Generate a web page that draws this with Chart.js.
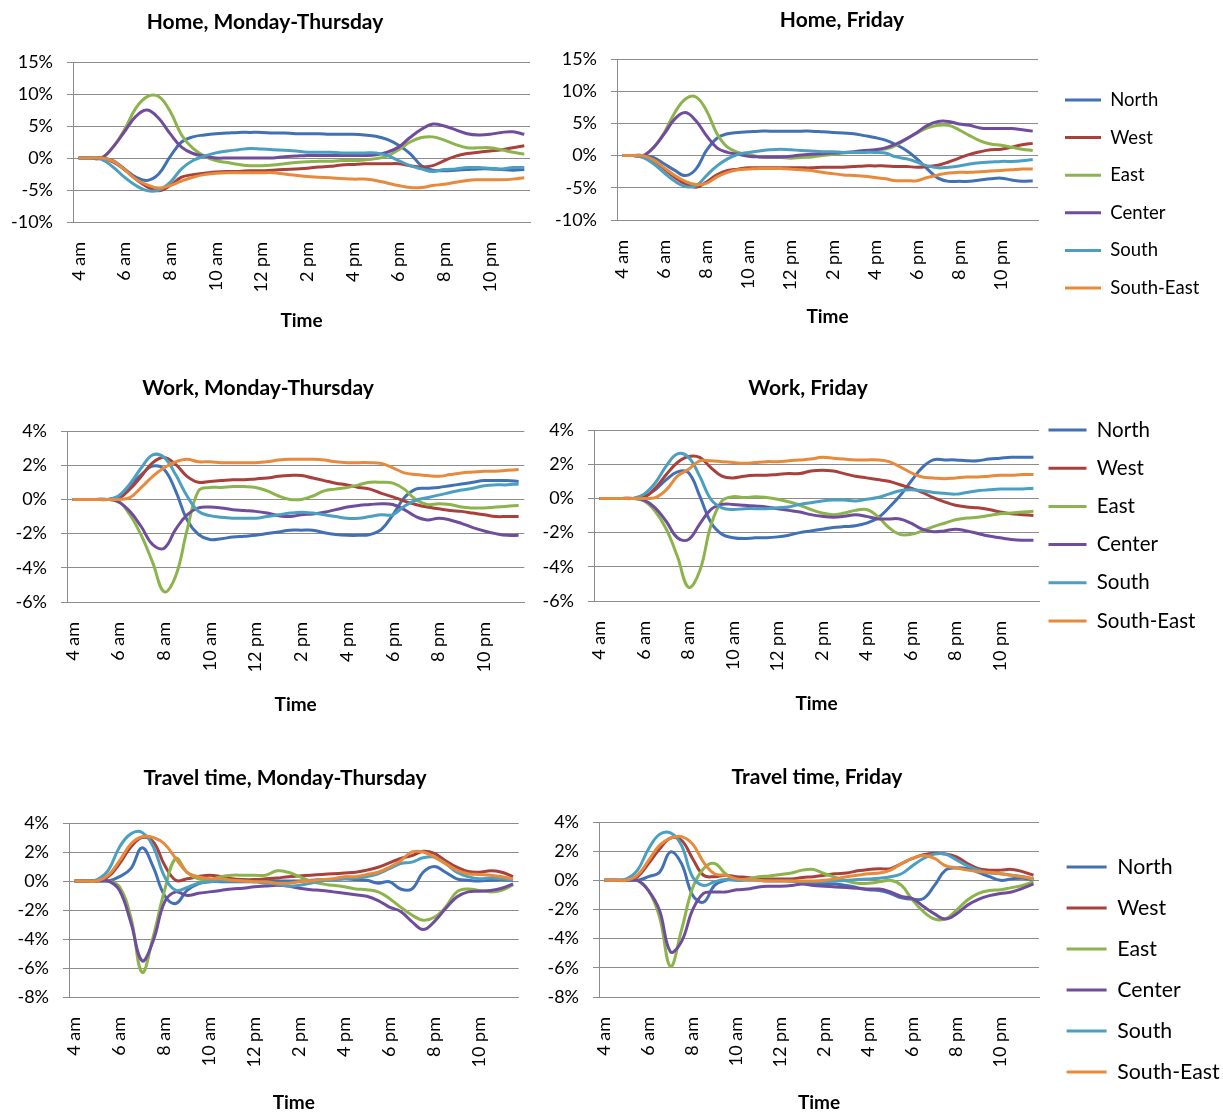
<!DOCTYPE html>
<html>
<head>
<meta charset="utf-8">
<title>Regional deviation by time of day</title>
<script src="https://cdn.jsdelivr.net/npm/chart.js@4.4.1/dist/chart.umd.min.js"></script>
<style>
  html, body { margin: 0; padding: 0; background: #ffffff; overflow: hidden; }
  body { width: 1223px; height: 1114px; position: relative; }
  canvas { position: absolute; display: block; }
</style>
</head>
<body>
<canvas id="homeMonThu"></canvas>
<canvas id="homeFri"></canvas>
<canvas id="workMonThu"></canvas>
<canvas id="workFri"></canvas>
<canvas id="travelMonThu"></canvas>
<canvas id="travelFri"></canvas>
<script>
// Half-hour time slots, 4:00 to 23:30
const times = ['4:00','4:30','5:00','5:30','6:00','6:30','7:00','7:30','8:00','8:30',
  '9:00','9:30','10:00','10:30','11:00','11:30','12:00','12:30','13:00','13:30',
  '14:00','14:30','15:00','15:30','16:00','16:30','17:00','17:30','18:00','18:30',
  '19:00','19:30','20:00','20:30','21:00','21:30','22:00','22:30','23:00','23:30'];

// Axis labels shown every two hours
const tickLabels = { '4:00': '4 am', '6:00': '6 am', '8:00': '8 am', '10:00': '10 am', '12:00': '12 pm',
  '14:00': '2 pm', '16:00': '4 pm', '18:00': '6 pm', '20:00': '8 pm', '22:00': '10 pm' };

const regions = ['North', 'West', 'East', 'Center', 'South', 'South-East'];

// Home, Monday-Thursday (% deviation)
const homeMonThuNorth  = [0,0,0,-0.4,-1.7,-3.0,-3.5,-2.5,0.2,2.5, 3.3,3.6,3.8,3.9,4.0,4.0,4.0,3.9,3.9,3.8, 3.8,3.8,3.7,3.7,3.7,3.6,3.4,2.9,2.0,0.7, -1.2,-1.9,-2.0,-1.9,-1.8,-1.7,-1.7,-1.8,-1.9,-1.8];
const homeMonThuWest   = [0,0,0,-0.6,-1.8,-3.3,-4.5,-5.1,-4.3,-3.0, -2.6,-2.4,-2.2,-2.1,-2.1,-2.0,-2.0,-1.9,-1.8,-1.7, -1.6,-1.4,-1.3,-1.1,-1.0,-0.9,-0.9,-0.9,-0.9,-1.2, -1.4,-1.2,-0.4,0.3,0.7,0.9,1.1,1.3,1.6,1.9];
const homeMonThuEast   = [0,0,0,1.7,4.4,7.8,9.6,9.6,7.3,3.6, 1.5,0.3,-0.4,-0.7,-1.0,-1.2,-1.2,-1.1,-0.9,-0.7, -0.6,-0.5,-0.5,-0.4,-0.4,-0.3,-0.1,0.3,1.3,2.5, 3.2,3.3,2.8,2.1,1.6,1.6,1.6,1.3,0.9,0.6];
const homeMonThuCenter = [0,0,0,1.7,4.1,6.5,7.5,6.2,3.8,1.7, 0.7,0.3,0,0,0,0,0,0,0.2,0.3, 0.4,0.4,0.4,0.4,0.4,0.4,0.5,0.9,1.7,3.2, 4.5,5.3,5.0,4.4,3.8,3.6,3.7,4.0,4.1,3.7];
const homeMonThuSouth  = [0,0,-0.2,-1.4,-3.0,-4.3,-5.1,-5.0,-3.8,-1.7, -0.4,0.3,0.8,1.1,1.3,1.5,1.4,1.3,1.2,1.1, 0.9,0.9,0.9,0.8,0.8,0.8,0.8,0.4,-0.4,-1.2, -1.7,-2.1,-1.8,-1.7,-1.5,-1.5,-1.6,-1.7,-1.5,-1.5];
const homeMonThuSE     = [0,0,0,-0.5,-1.8,-3.3,-4.2,-4.7,-4.3,-3.6, -3.0,-2.6,-2.4,-2.3,-2.3,-2.3,-2.3,-2.3,-2.5,-2.7, -2.9,-3.0,-3.1,-3.2,-3.3,-3.3,-3.5,-3.9,-4.3,-4.6, -4.6,-4.3,-4.1,-3.8,-3.5,-3.4,-3.4,-3.4,-3.3,-3.1];

// Home, Friday
const homeFriNorth  = [0,0,0,-0.3,-1.3,-2.3,-3.1,-2.1,0.8,2.7, 3.4,3.6,3.7,3.8,3.8,3.8,3.8,3.8,3.8,3.7, 3.6,3.5,3.4,3.1,2.8,2.4,1.7,0.8,-0.5,-2.1, -3.5,-4.0,-4.0,-4.0,-3.8,-3.6,-3.5,-3.8,-4.0,-3.9];
const homeFriWest   = [0,0,0,-0.8,-2.1,-3.4,-4.4,-4.9,-4.1,-3.0, -2.3,-2.1,-1.9,-1.9,-1.9,-1.9,-1.9,-1.9,-1.9,-1.8, -1.8,-1.8,-1.7,-1.6,-1.6,-1.6,-1.7,-1.7,-1.8,-1.7, -1.5,-1.0,-0.4,0.2,0.6,0.9,1.0,1.3,1.7,1.9];
const homeFriEast   = [0,0,0,1.3,3.6,6.7,8.8,9.1,7.0,3.4, 1.3,0.5,0.2,-0.2,-0.3,-0.3,-0.4,-0.3,-0.2,0, 0.2,0.4,0.5,0.6,0.8,1.0,1.6,2.6,3.5,4.3, 4.7,4.7,4.0,3.1,2.3,1.8,1.6,1.3,1.0,0.8];
const homeFriCenter = [0,0,0,1.3,3.4,5.7,6.7,5.4,3.1,1.2, 0.5,0.2,-0.1,-0.2,-0.2,-0.2,-0.1,0.1,0.2,0.3, 0.4,0.5,0.6,0.8,0.9,1.2,1.8,2.6,3.6,4.7, 5.3,5.3,4.9,4.7,4.3,4.2,4.2,4.2,4.0,3.8];
const homeFriSouth  = [0,0,-0.3,-1.3,-2.7,-4.0,-4.8,-4.7,-3.1,-1.6, -0.5,0.2,0.5,0.7,0.9,1.0,0.9,0.8,0.7,0.6, 0.6,0.5,0.5,0.5,0.5,0.4,-0.2,-0.5,-1.0,-1.6, -1.9,-1.8,-1.6,-1.3,-1.1,-1.0,-0.9,-0.9,-0.8,-0.6];
const homeFriSE     = [0,0,0,-0.7,-1.9,-3.1,-4.0,-4.5,-4.3,-3.3, -2.6,-2.2,-2.1,-2.0,-2.0,-2.0,-2.1,-2.2,-2.3,-2.6, -2.8,-3.0,-3.1,-3.2,-3.4,-3.6,-3.9,-3.9,-3.9,-3.4, -3.0,-2.7,-2.6,-2.6,-2.5,-2.4,-2.3,-2.2,-2.1,-2.1];

// Work, Monday-Thursday
const workMonThuNorth  = [0,0,0,0,0.15,0.8,1.45,1.95,1.75,0.5, -1.2,-2.05,-2.35,-2.3,-2.2,-2.15,-2.1,-2.0,-1.9,-1.8, -1.8,-1.8,-1.95,-2.05,-2.1,-2.1,-2.05,-1.75,-0.9,0.1, 0.6,0.65,0.7,0.8,0.9,1.0,1.1,1.1,1.1,1.05];
const workMonThuWest   = [0,0,0,0,0.05,0.6,1.35,2.15,2.45,2.05, 1.35,1.0,1.05,1.1,1.15,1.15,1.2,1.25,1.35,1.4, 1.4,1.25,1.1,0.95,0.85,0.7,0.6,0.35,0.15,-0.1, -0.3,-0.45,-0.55,-0.65,-0.7,-0.8,-0.9,-1.0,-1.0,-1.0];
const workMonThuEast   = [0,0,0,0,-0.1,-0.9,-2.1,-3.7,-5.4,-4.5, -1.8,0.5,0.7,0.7,0.75,0.75,0.7,0.5,0.2,0, 0,0.2,0.5,0.6,0.7,0.85,1.0,1.0,0.95,0.6, 0,-0.3,-0.25,-0.3,-0.45,-0.5,-0.5,-0.45,-0.4,-0.35];
const workMonThuCenter = [0,0,0,0,-0.15,-0.7,-1.6,-2.65,-2.85,-1.75, -0.9,-0.5,-0.45,-0.5,-0.6,-0.65,-0.7,-0.8,-0.95,-1.0, -0.9,-0.85,-0.75,-0.6,-0.45,-0.35,-0.3,-0.25,-0.3,-0.6, -1.0,-1.2,-1.1,-1.2,-1.4,-1.65,-1.85,-2.0,-2.1,-2.1];
const workMonThuSouth  = [0,0,0,0,0.2,0.9,1.85,2.6,2.45,1.45, 0.2,-0.7,-0.95,-1.05,-1.1,-1.1,-1.1,-1.0,-0.9,-0.8, -0.75,-0.8,-0.9,-1.0,-1.1,-1.1,-1.0,-0.9,-0.9,-0.4, -0.05,0.1,0.25,0.4,0.55,0.65,0.8,0.85,0.85,0.9];
const workMonThuSE     = [0,0,0,0,0,0.1,0.7,1.35,1.85,2.2, 2.35,2.2,2.2,2.15,2.15,2.15,2.15,2.2,2.3,2.35, 2.35,2.35,2.3,2.2,2.15,2.15,2.15,2.1,1.85,1.55, 1.45,1.4,1.35,1.45,1.55,1.6,1.65,1.65,1.7,1.75];

// Work, Friday
const workFriNorth  = [0,0,0,0,0.1,0.5,1.1,1.55,1.5,0.15, -1.4,-2.1,-2.3,-2.35,-2.3,-2.3,-2.25,-2.15,-2.0,-1.9, -1.8,-1.7,-1.65,-1.6,-1.45,-1.15,-0.55,0.15,1.0,1.8, 2.25,2.25,2.25,2.2,2.2,2.3,2.35,2.4,2.4,2.4];
const workFriWest   = [0,0,0,0,0.05,0.6,1.4,2.1,2.45,2.4, 1.8,1.3,1.2,1.3,1.35,1.35,1.4,1.45,1.45,1.6, 1.65,1.6,1.45,1.3,1.2,1.1,1.0,0.8,0.6,0.35, 0.05,-0.2,-0.4,-0.5,-0.55,-0.65,-0.8,-0.9,-0.95,-1.0];
const workFriEast   = [0,0,0,0,-0.15,-0.75,-1.8,-3.4,-5.2,-4.25, -1.6,-0.15,0.1,0.05,0.1,0.05,-0.05,-0.2,-0.4,-0.65, -0.85,-0.95,-0.85,-0.7,-0.65,-1.05,-1.7,-2.1,-2.1,-1.9, -1.65,-1.45,-1.25,-1.15,-1.1,-1.0,-0.9,-0.85,-0.8,-0.75];
const workFriCenter = [0,0,0,0,-0.1,-0.55,-1.35,-2.3,-2.4,-1.5, -0.65,-0.35,-0.35,-0.4,-0.45,-0.5,-0.6,-0.7,-0.8,-0.95, -1.05,-1.1,-1.05,-0.95,-1.05,-1.2,-1.2,-1.2,-1.45,-1.8, -1.95,-1.9,-1.8,-1.9,-2.05,-2.2,-2.3,-2.4,-2.45,-2.45];
const workFriSouth  = [0,0,0,0,0.25,0.9,1.9,2.6,2.4,1.3, -0.05,-0.55,-0.65,-0.6,-0.6,-0.6,-0.55,-0.5,-0.35,-0.25, -0.15,-0.1,-0.1,-0.15,-0.05,0.05,0.25,0.45,0.5,0.45, 0.35,0.3,0.25,0.35,0.45,0.5,0.55,0.55,0.55,0.6];
const workFriSE     = [0,0,0,0,0,0.05,0.5,1.3,1.7,2.2, 2.2,2.15,2.1,2.05,2.1,2.15,2.15,2.2,2.25,2.3, 2.4,2.35,2.3,2.25,2.25,2.25,2.15,1.85,1.5,1.25, 1.2,1.15,1.2,1.25,1.25,1.3,1.35,1.35,1.4,1.4];

// Travel time, Monday-Thursday
const travelMonThuNorth  = [0,0,0,0,0.3,0.85,2.3,0.95,-1.0,-1.55, -0.65,-0.2,-0.05,-0.05,-0.05,-0.05,-0.05,0,0,0, 0,0.05,0.1,0.1,0.15,0.1,0.05,-0.15,-0.05,-0.55, -0.55,0.6,1.0,0.6,0.15,0.05,0,0.05,0.1,0.05];
const travelMonThuWest   = [0,0,0,0.3,1.2,2.35,3.0,2.7,1.1,0.05, 0.15,0.3,0.4,0.3,0.15,0.1,0.1,0.15,0.2,0.3, 0.35,0.4,0.45,0.5,0.55,0.6,0.75,0.95,1.25,1.55, 1.75,2.05,1.9,1.4,0.95,0.65,0.6,0.7,0.6,0.3];
const travelMonThuEast   = [0,0,0,0,-0.4,-2.5,-6.3,-3.8,-0.65,1.55, 0.6,0.15,0.1,0.3,0.4,0.4,0.4,0.4,0.7,0.6, 0.3,0,-0.2,-0.3,-0.4,-0.55,-0.6,-0.75,-1.2,-1.8, -2.35,-2.7,-2.5,-1.8,-0.75,-0.55,-0.65,-0.75,-0.65,-0.25];
const travelMonThuCenter = [0,0,0,0,-0.65,-2.85,-5.5,-4.1,-1.45,-0.75, -1.0,-0.85,-0.75,-0.65,-0.55,-0.5,-0.4,-0.35,-0.3,-0.35, -0.5,-0.6,-0.65,-0.75,-0.85,-0.95,-1.05,-1.35,-1.8,-2.1, -2.8,-3.35,-2.8,-1.9,-1.1,-0.75,-0.7,-0.65,-0.5,-0.2];
const travelMonThuSouth  = [0,0,0.1,0.75,2.35,3.25,3.35,2.35,0.3,-0.65, -0.45,-0.15,-0.05,0,0,0,-0.05,-0.15,-0.2,-0.35, -0.3,-0.15,0,0.1,0.15,0.2,0.3,0.5,0.85,1.2, 1.3,1.6,1.65,1.2,0.6,0.3,0.15,0.2,0.15,0.05];
const travelMonThuSE     = [0,0,0,0.4,1.4,2.55,3.05,3.0,2.55,1.55, 0.6,0.3,0.15,0.15,0.05,0,-0.05,-0.05,-0.15,-0.15, -0.05,0,0.1,0.15,0.3,0.3,0.45,0.6,0.95,1.4, 2.0,2.0,1.65,1.2,0.75,0.5,0.45,0.4,0.3,0.15];

// Travel time, Friday
const travelFriNorth  = [0,0,0,0,0.25,0.55,1.95,1.15,-1.0,-1.5, -0.35,0,0.1,0.1,0.05,0,0,-0.05,-0.1,-0.2, -0.25,-0.25,-0.35,-0.5,-0.65,-0.7,-0.9,-1.2,-1.3,-1.25, -0.35,0.7,0.85,0.8,0.55,0.25,0,0.1,0.15,0.05];
const travelFriWest   = [0,0,0,0.25,1.15,2.15,2.9,2.75,1.5,0.35, 0.25,0.35,0.25,0.2,0.1,0.1,0.1,0.1,0.2,0.25, 0.35,0.45,0.5,0.65,0.75,0.8,0.8,1.15,1.5,1.75, 1.85,1.8,1.6,1.15,0.8,0.7,0.7,0.75,0.6,0.35];
const travelFriEast   = [0,0,0,0,-0.7,-2.5,-5.9,-3.4,-0.55,0.8, 1.15,0.45,0,0.1,0.25,0.3,0.4,0.5,0.7,0.75, 0.45,0.2,-0.05,-0.2,-0.2,-0.1,0,-0.35,-1.35,-2.15, -2.65,-2.65,-2.05,-1.35,-0.9,-0.7,-0.65,-0.5,-0.35,-0.1];
const travelFriCenter = [0,0,0,0,-0.7,-2.05,-4.9,-4.2,-2.05,-0.9, -0.8,-0.8,-0.65,-0.6,-0.45,-0.4,-0.4,-0.35,-0.25,-0.35, -0.4,-0.45,-0.5,-0.55,-0.6,-0.6,-0.8,-1.1,-1.25,-1.8, -2.3,-2.65,-2.3,-1.7,-1.3,-1.05,-0.9,-0.8,-0.55,-0.25];
const travelFriSouth  = [0,0,0.1,0.7,2.15,3.15,3.25,2.4,0.25,-0.35, -0.1,0.05,0,0,0,-0.05,-0.05,-0.05,-0.1,-0.1, -0.1,-0.05,0,0.05,0.1,0.15,0.25,0.45,1.0,1.5, 1.8,1.8,1.4,1.0,0.7,0.5,0.45,0.35,0.25,0.1];
const travelFriSE     = [0,0,0,0.35,1.35,2.4,2.9,3.0,2.5,1.25, 0.45,0.35,0.1,0.05,0,-0.05,-0.05,-0.05,-0.05,-0.05, 0,0.1,0.25,0.35,0.45,0.5,0.7,1.15,1.5,1.7, 1.5,1.0,0.85,0.7,0.6,0.55,0.45,0.35,0.25,0.1];

// ---- styling ----
const seriesColors = ['#4270B5', '#A9403B', '#8DB44C', '#6F4D9C', '#4B9FC1', '#E78A3B'];
const gridColor = '#8C8C8C';
const fontFamily = 'Lato, "Noto Sans", "DejaVu Sans", sans-serif';

// Moves the title and legend blocks to fixed spots once Chart.js has laid the chart out.
const placeBlocks = {
  id: 'placeBlocks',
  afterLayout(chart, args, opts) {
    const t = chart.titleBlock;
    if (t && opts.titleX !== undefined) {
      const dx = opts.titleX - (t.left + t.right) / 2;
      t.left += dx; t.right += dx;
    }
    const lg = chart.legend;
    if (lg && lg.options && lg.options.display && opts.legendX !== undefined) {
      const pad = lg.options.labels.padding;
      lg.left = opts.legendX - pad;
      lg.right = chart.width;
      lg.width = lg.right - lg.left;
      const dy = opts.legendY - (lg.top + pad + opts.legendFont / 2);
      lg.top += dy; lg.bottom += dy;
    }
  }
};
Chart.register(placeBlocks);

function buildChart(p) {
  const canvas = document.getElementById(p.id);
  canvas.width = p.w; canvas.height = p.h;
  canvas.style.left = p.x + 'px'; canvas.style.top = p.y + 'px';
  canvas.style.width = p.w + 'px'; canvas.style.height = p.h + 'px';

  const datasets = p.series.map((values, i) => ({
    label: regions[i],
    data: values,
    borderColor: seriesColors[i],
    backgroundColor: seriesColors[i],
    borderWidth: 3,
    pointRadius: 0,
    pointHoverRadius: 0,
    pointBorderWidth: 3,
    tension: 0.4,
    order: p.series.length - i
  }));

  const legendOpts = p.legend ? {
    display: true,
    position: 'right',
    align: 'start',
    maxWidth: 140,
    labels: {
      usePointStyle: true,
      pointStyle: 'line',
      pointStyleWidth: p.legend.lineW,
      padding: p.legend.pad,
      color: '#000000',
      font: { family: fontFamily, size: p.legend.font },
      sort: (a, b) => a.datasetIndex - b.datasetIndex
    }
  } : { display: false };

  return new Chart(canvas, {
    type: 'line',
    data: { labels: times, datasets },
    options: {
      responsive: false,
      animation: false,
      devicePixelRatio: 1,
      layout: { padding: { left: 0, top: 0, right: p.padRight, bottom: 0 } },
      plugins: {
        title: {
          display: true,
          text: p.title,
          color: '#000000',
          font: { family: fontFamily, size: 21, weight: 'bold', lineHeight: 1.2 },
          padding: { top: p.titlePad[0], bottom: p.titlePad[1] }
        },
        legend: legendOpts,
        tooltip: { enabled: false },
        placeBlocks: p.legend
          ? { titleX: p.titleX, legendX: p.legend.x, legendY: p.legend.y, legendFont: p.legend.font }
          : { titleX: p.titleX }
      },
      scales: {
        x: {
          offset: true,
          afterFit: (s) => { s.height = p.xHeight; },
          grid: { display: false, drawTicks: false },
          border: { display: true, color: gridColor, width: 1 },
          ticks: {
            autoSkip: false,
            minRotation: 90,
            maxRotation: 90,
            padding: 20,
            color: '#000000',
            font: { family: fontFamily, size: 18 },
            callback: (v, i) => (tickLabels[times[i]] !== undefined ? tickLabels[times[i]] : null)
          },
          title: {
            display: true,
            text: 'Time',
            color: '#000000',
            font: { family: fontFamily, size: 19, weight: 'bold', lineHeight: 1.2 },
            padding: { top: 0, bottom: 0 }
          }
        },
        y: {
          min: p.yMin,
          max: p.yMax,
          afterFit: (s) => { s.width = p.yWidth; },
          grid: { color: gridColor, lineWidth: 1, drawTicks: true, tickLength: 6 },
          border: { display: true, color: gridColor, width: 1 },
          ticks: {
            stepSize: p.yStep,
            padding: 14,
            color: '#000000',
            font: { family: fontFamily, size: 18 },
            callback: (v) => v + '%'
          }
        }
      }
    }
  });
}

const panels = [
  { id: 'homeMonThu', title: 'Home, Monday-Thursday', x: 0, y: 0, w: 532, h: 332,
    yWidth: 73, xHeight: 110, padRight: 2, titlePad: [9.4, 27.4], titleX: 265,
    yMin: -10, yMax: 15, yStep: 5,
    series: [homeMonThuNorth, homeMonThuWest, homeMonThuEast, homeMonThuCenter, homeMonThuSouth, homeMonThuSE] },
  { id: 'homeFri', title: 'Home, Friday', x: 545, y: 0, w: 678, h: 328,
    yWidth: 72, xHeight: 108, padRight: 45, titlePad: [7.4, 26.4], titleX: 297,
    yMin: -10, yMax: 15, yStep: 5,
    legend: { x: 520, y: 100, font: 18.5, pad: 19.1, lineW: 36 },
    series: [homeFriNorth, homeFriWest, homeFriEast, homeFriCenter, homeFriSouth, homeFriSE] },
  { id: 'workMonThu', title: 'Work, Monday-Thursday', x: 0, y: 370, w: 526, h: 346,
    yWidth: 67, xHeight: 114, padRight: 1, titlePad: [5.4, 30.4], titleX: 258,
    yMin: -6, yMax: 4, yStep: 2,
    series: [workMonThuNorth, workMonThuWest, workMonThuEast, workMonThuCenter, workMonThuSouth, workMonThuSE] },
  { id: 'workFri', title: 'Work, Friday', x: 532, y: 370, w: 691, h: 345,
    yWidth: 62, xHeight: 114, padRight: 44, titlePad: [5.4, 29.4], titleX: 276,
    yMin: -6, yMax: 4, yStep: 2,
    legend: { x: 516.5, y: 60, font: 20.5, pad: 17.7, lineW: 38 },
    series: [workFriNorth, workFriWest, workFriEast, workFriCenter, workFriSouth, workFriSE] },
  { id: 'travelMonThu', title: 'Travel time, Monday-Thursday', x: 0, y: 760, w: 521, h: 354,
    yWidth: 69, xHeight: 117, padRight: 1, titlePad: [5.4, 32.4], titleX: 285,
    yMin: -8, yMax: 4, yStep: 2,
    series: [travelMonThuNorth, travelMonThuWest, travelMonThuEast, travelMonThuCenter, travelMonThuSouth, travelMonThuSE] },
  { id: 'travelFri', title: 'Travel time, Friday', x: 537, y: 760, w: 686, h: 354,
    yWidth: 62, xHeight: 117, padRight: 44, titlePad: [4.4, 32.4], titleX: 280,
    yMin: -8, yMax: 4, yStep: 2,
    legend: { x: 529.6, y: 107, font: 21.3, pad: 19.7, lineW: 40 },
    series: [travelFriNorth, travelFriWest, travelFriEast, travelFriCenter, travelFriSouth, travelFriSE] }
];

function drawAll() { panels.forEach(buildChart); }

if (document.fonts && document.fonts.load) {
  Promise.all([
    document.fonts.load('18px Lato'),
    document.fonts.load('bold 20px Lato')
  ]).then(drawAll, drawAll);
} else {
  drawAll();
}
</script>
</body>
</html>
